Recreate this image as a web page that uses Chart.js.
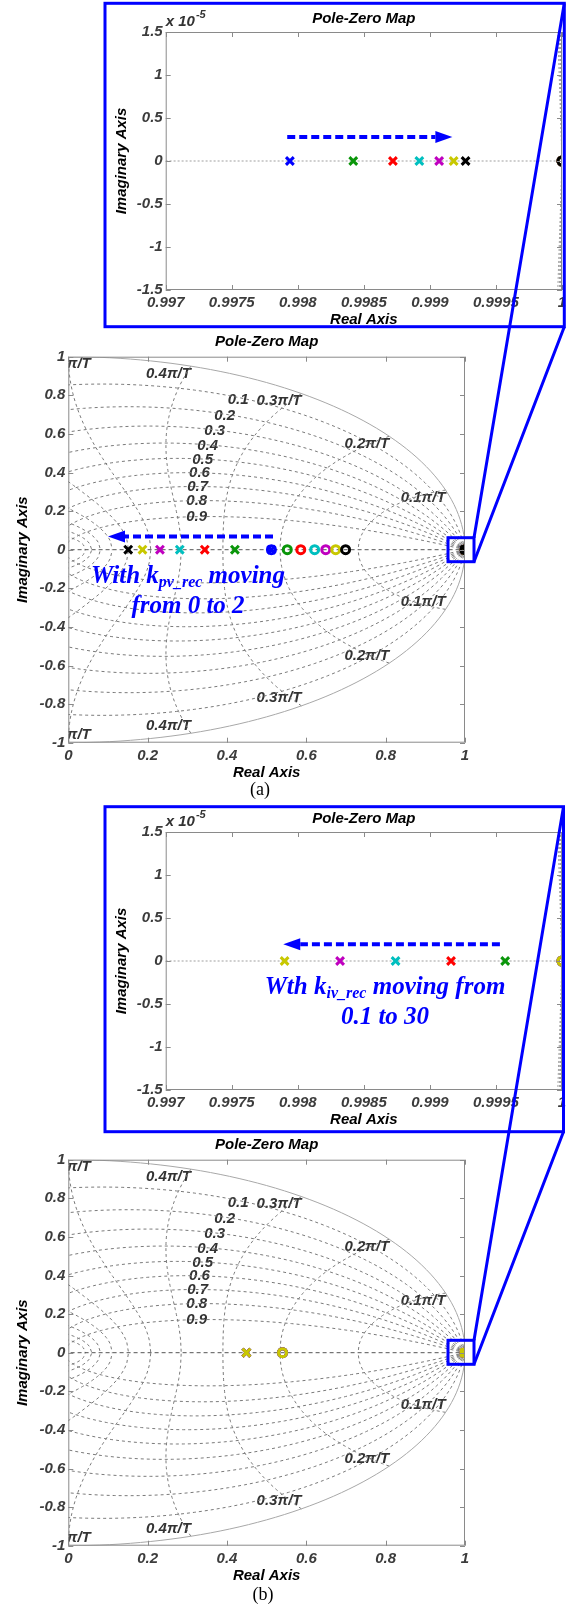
<!DOCTYPE html>
<html>
<head>
<meta charset="utf-8">
<script src="https://cdn.jsdelivr.net/npm/chart.js@4.4.1/dist/chart.umd.min.js"></script>
<style>
  html, body { margin: 0; padding: 0; background: #fff; overflow: hidden; }
  body { position: relative; width: 566px; height: 1607px; }
  canvas.plot { position: absolute; }
  .note { position: absolute; color: #0000ff; font-family: 'Liberation Serif', 'Times New Roman', serif;
          font-weight: bold; font-style: italic; font-size: 25px; line-height: 30px; text-align: center; white-space: nowrap; }
  .note span { font-size: 16px; vertical-align: -4px; line-height: 0; }
  .cap { position: absolute; font-family: 'Liberation Serif', 'Times New Roman', serif; font-size: 18px; line-height: 20px; width: 40px; text-align: center; }
  #overlay { position: absolute; left: 0; top: 0; pointer-events: none; }
</style>
</head>
<body>
<canvas id="zoomA" class="plot" width="480" height="330" style="left:100px;top:0px"></canvas>
<canvas id="mainA" class="plot" width="566" height="475" style="left:0px;top:325px"></canvas>
<canvas id="zoomB" class="plot" width="480" height="330" style="left:100px;top:800px"></canvas>
<canvas id="mainB" class="plot" width="566" height="475" style="left:0px;top:1127.6px"></canvas>
<div class="note" style="left:38px;top:560px;width:300px">With k<span>pv_rec</span> moving<br>from 0 to 2</div>
<div class="note" style="left:235px;top:971px;width:300px">Wth k<span>iv_rec</span> moving from<br>0.1 to 30</div>
<div class="cap" style="left:240px;top:779px">(a)</div>
<div class="cap" style="left:243px;top:1584px">(b)</div>
<canvas id="overlay" width="566" height="1607"></canvas>
<script>
// ---- axis ticks ----
const mainXTicks = [0, 0.2, 0.4, 0.6, 0.8, 1];
const mainYTicks = [-1, -0.8, -0.6, -0.4, -0.2, 0, 0.2, 0.4, 0.6, 0.8, 1];
const zoomXTicks = [0.997, 0.9975, 0.998, 0.9985, 0.999, 0.9995, 1];
const zoomYTicks = [-1.5, -1, -0.5, 0, 0.5, 1, 1.5];   // x 10^-5

// ---- zgrid levels ----
const zetaLevels = [0, 0.1, 0.2, 0.3, 0.4, 0.5, 0.6, 0.7, 0.8, 0.9];
const wnLevels = [0.1, 0.2, 0.3, 0.4, 0.5, 0.6, 0.7, 0.8, 0.9, 1.0];   // x pi/T

// ---- (a) k_pv_rec from 0 to 2 (one colour per step) ----
const polesFarA  = [0.512, 0.420, 0.344, 0.281, 0.231, 0.187, 0.151];
const polesNearA = [0.99794, 0.99842, 0.99872, 0.99892, 0.99907, 0.99918, 0.99927];
const zerosFarA  = [0.512, 0.552, 0.586, 0.621, 0.649, 0.674, 0.699];
const zerosNearA = [1, 1, 1, 1, 1, 1, 1];
const colorsA = ['#0000ff', '#0a960a', '#ff0000', '#00bfbf', '#bf00bf', '#c8c800', '#000000'];

// ---- (b) k_iv_rec from 0.1 to 30 ----
const polesFarB  = [0.449, 0.449, 0.449, 0.449, 0.449];
const polesNearB = [0.99957, 0.99916, 0.99874, 0.99832, 0.99790];
const zerosFarB  = [0.540, 0.540, 0.540, 0.540, 0.540];
const zerosNearB = [1, 1, 1, 1, 1];
const colorsB = ['#0a960a', '#ff0000', '#00bfbf', '#bf00bf', '#c8c800'];

// arrows (data units of each plot)
const arrowZoomA = {from: [0.99792, 0.28], to: [0.99917, 0.28]};
const arrowMainA = {from: [0.516, 0.068], to: [0.100, 0.068]};
const arrowZoomB = {from: [0.99953, 0.195], to: [0.99789, 0.195]};

Chart.defaults.font.family = "'Liberation Sans', Arial, Helvetica, sans-serif";
const AX_FONT = {size: 15, weight: 'bold', style: 'italic'};
const fmt = v => String(parseFloat(Number(v).toFixed(4)));

function zetaCurve(z, s, ys) {
  const m = z / Math.sqrt(1 - z * z), pts = [];
  for (let i = 0; i <= 120; i++) {
    const th = Math.PI * i / 120, r = Math.exp(-m * th);
    pts.push({x: r * Math.cos(th), y: s * r * Math.sin(th) * ys});
  }
  return pts;
}
function wnCurve(k, s, ys) {
  const w = k * Math.PI, pts = [];
  for (let i = 0; i <= 60; i++) {
    const zt = i / 60, r = Math.exp(-zt * w), th = w * Math.sqrt(1 - zt * zt);
    pts.push({x: r * Math.cos(th), y: s * r * Math.sin(th) * ys});
  }
  return pts;
}
// keep only the parts of a polyline inside a box (for the zoomed plots)
function clipPolyline(pts, b) {
  const out = [];
  for (let i = 0; i < pts.length - 1; i++) {
    const a = pts[i], c = pts[i + 1], dx = c.x - a.x, dy = c.y - a.y;
    const p = [-dx, dx, -dy, dy], q = [a.x - b.x0, b.x1 - a.x, a.y - b.y0, b.y1 - a.y];
    let t0 = 0, t1 = 1, ok = true;
    for (let k = 0; k < 4; k++) {
      if (p[k] === 0) { if (q[k] < 0) { ok = false; break; } continue; }
      const r = q[k] / p[k];
      if (p[k] < 0) { if (r > t1) { ok = false; break; } if (r > t0) t0 = r; }
      else { if (r < t0) { ok = false; break; } if (r < t1) t1 = r; }
    }
    if (!ok) continue;
    out.push({x: a.x + t0 * dx, y: a.y + t0 * dy}, {x: a.x + t1 * dx, y: a.y + t1 * dy}, {x: null, y: null});
  }
  return out;
}

function gridSets(zoomed) {
  const ys = zoomed ? 1e5 : 1;
  const dash = zoomed ? [2, 2] : [3, 3];
  const col = zoomed ? '#a0a0a0' : '#7a7a7a';
  const box = {x0: 0.996, x1: 1.001, y0: -2, y1: 2};
  const sets = [];
  const add = (pts, d, c) => sets.push({
    data: zoomed ? clipPolyline(pts, box) : pts, showLine: true, pointRadius: 0,
    borderColor: c, borderWidth: 1, borderDash: d, fill: false, spanGaps: false, order: 100
  });
  add([{x: -1, y: 0}, {x: 1, y: 0}], zoomed ? [2, 2] : [4, 3], zoomed ? '#a0a0a0' : '#555');
  zetaLevels.forEach(z => [1, -1].forEach(s => add(zetaCurve(z, s, ys), z === 0 ? [] : dash, z === 0 ? '#a8a8a8' : col)));
  wnLevels.forEach(k => [1, -1].forEach(s => add(wnCurve(k, s, ys), dash, col)));
  return sets;
}

function markerSets(poleLists, zeroLists, colors) {
  const sets = [];
  colors.forEach((c, i) => {
    const order = colors.length - i;
    sets.push({data: poleLists.map(p => ({x: p[i], y: 0})), showLine: false, order: order,
      pointStyle: 'crossRot', pointRadius: 5.5, pointBorderWidth: 3,
      pointBorderColor: c, pointBackgroundColor: c, borderColor: c});
    sets.push({data: zeroLists.map(z => ({x: z[i], y: 0})), showLine: false, order: order,
      pointStyle: 'circle', pointRadius: 4, pointBorderWidth: 3,
      pointBorderColor: c, pointBackgroundColor: 'rgba(0,0,0,0)', borderColor: c});
  });
  return sets;
}

function drawArrow(ctx, x0, y0, x1, y1) {
  const len = Math.hypot(x1 - x0, y1 - y0), ux = (x1 - x0) / len, uy = (y1 - y0) / len;
  const head = 17, half = 6;
  ctx.save();
  ctx.strokeStyle = '#0000ff'; ctx.fillStyle = '#0000ff';
  ctx.lineWidth = 4; ctx.setLineDash([8, 4]);
  ctx.beginPath(); ctx.moveTo(x0, y0); ctx.lineTo(x1 - ux * head, y1 - uy * head); ctx.stroke();
  ctx.setLineDash([]);
  ctx.beginPath();
  ctx.moveTo(x1, y1);
  ctx.lineTo(x1 - ux * head - uy * half, y1 - uy * head + ux * half);
  ctx.lineTo(x1 - ux * head + uy * half, y1 - uy * head - ux * half);
  ctx.closePath(); ctx.fill();
  ctx.restore();
}

const pzDecor = {
  id: 'pzDecor',
  beforeDatasetsDraw(chart, args, o) {
    if (!o.gridLabels) return;
    const {ctx, chartArea: ca, scales: {x, y}} = chart;
    ctx.save();
    ctx.beginPath(); ctx.rect(ca.left, ca.top, ca.width, ca.height); ctx.clip();
    ctx.font = "italic bold 15px 'Liberation Sans', Arial, sans-serif";
    ctx.fillStyle = '#333';
    wnLevels.forEach(k => {
      const th = k * Math.PI, cx = Math.cos(th);
      const align = Math.abs(cx) < 1e-9 ? 'center' : (cx > 0 ? 'right' : 'left');
      const txt = (k === 1 ? '' : k.toFixed(1)) + 'π/T';
      [1, -1].forEach(s => {
        ctx.textAlign = align;
        ctx.textBaseline = s > 0 ? 'top' : 'bottom';
        ctx.fillText(txt, x.getPixelForValue(cx), y.getPixelForValue(s * Math.sin(th)));
      });
    });
    zetaLevels.filter(z => z > 0).forEach(z => {
      const w = Math.PI / 3, r = Math.exp(-z * w), th = w * Math.sqrt(1 - z * z);
      ctx.textAlign = 'right'; ctx.textBaseline = 'middle';
      ctx.fillText(String(z), x.getPixelForValue(r * Math.cos(th)), y.getPixelForValue(r * Math.sin(th)));
    });
    ctx.restore();
  },
  afterDatasetsDraw(chart, args, o) {
    const {ctx, chartArea: ca, scales: {x, y}} = chart;
    // frame with inward ticks
    ctx.save();
    ctx.strokeStyle = '#8a8a8a'; ctx.lineWidth = 1;
    ctx.strokeRect(ca.left + 0.5, ca.top + 0.5, ca.width - 1, ca.height - 1);
    ctx.beginPath();
    x.ticks.forEach(t => {
      const px = Math.round(x.getPixelForValue(t.value)) + 0.5;
      ctx.moveTo(px, ca.bottom); ctx.lineTo(px, ca.bottom - 5);
      ctx.moveTo(px, ca.top); ctx.lineTo(px, ca.top + 5);
    });
    y.ticks.forEach(t => {
      const py = Math.round(y.getPixelForValue(t.value)) + 0.5;
      ctx.moveTo(ca.left, py); ctx.lineTo(ca.left + 5, py);
      ctx.moveTo(ca.right, py); ctx.lineTo(ca.right - 5, py);
    });
    ctx.stroke();
    ctx.restore();
    if (o.arrow) {
      drawArrow(ctx, x.getPixelForValue(o.arrow.from[0]), y.getPixelForValue(o.arrow.from[1]),
                     x.getPixelForValue(o.arrow.to[0]), y.getPixelForValue(o.arrow.to[1]));
    }
    if (o.exponent) {
      ctx.save();
      ctx.fillStyle = '#333'; ctx.textAlign = 'left'; ctx.textBaseline = 'alphabetic';
      ctx.font = "italic bold 15px 'Liberation Sans', Arial, sans-serif";
      ctx.fillText('x 10', ca.left, ca.top - 6);
      const w = ctx.measureText('x 10').width;
      ctx.font = "italic bold 11px 'Liberation Sans', Arial, sans-serif";
      ctx.fillText('-5', ca.left + w + 1, ca.top - 14);
      ctx.restore();
    }
  }
};

function makePlot(id, cfg) {
  return new Chart(document.getElementById(id), {
    type: 'scatter',
    data: {datasets: cfg.markers.concat(gridSets(cfg.zoomed))},
    options: {
      responsive: false, animation: false, events: [],
      layout: {padding: cfg.pad},
      plugins: {
        legend: {display: false}, tooltip: {enabled: false},
        title: {display: true, text: 'Pole-Zero Map', fullSize: false, color: '#000', font: AX_FONT,
                padding: {top: cfg.titleTop, bottom: cfg.titleBottom}},
        pzDecor: {gridLabels: !cfg.zoomed, arrow: cfg.arrow, exponent: cfg.zoomed}
      },
      scales: {
        x: {
          type: 'linear', min: cfg.xRange[0], max: cfg.xRange[1],
          afterBuildTicks: s => { s.ticks = cfg.xTicks.map(v => ({value: v})); },
          afterFit: s => { s.height = cfg.xH; s.paddingLeft = 0; s.paddingRight = 0; },
          grid: {display: false, drawTicks: false}, border: {display: false},
          ticks: {color: '#3c3c3c', font: AX_FONT, padding: 4, maxRotation: 0, autoSkip: false, callback: fmt},
          title: {display: true, text: 'Real Axis', color: '#000', font: AX_FONT, padding: 0}
        },
        y: {
          type: 'linear', min: cfg.yRange[0], max: cfg.yRange[1],
          afterBuildTicks: s => { s.ticks = cfg.yTicks.map(v => ({value: v})); },
          afterFit: s => { s.width = cfg.yW; s.paddingTop = 0; s.paddingBottom = 0; },
          grid: {display: false, drawTicks: false}, border: {display: false},
          ticks: {color: '#3c3c3c', font: AX_FONT, padding: 3, autoSkip: false, callback: fmt},
          title: {display: true, text: 'Imaginary Axis', color: '#000', font: AX_FONT, padding: 0}
        }
      }
    },
    plugins: [pzDecor]
  });
}

const zoomCfg = {zoomed: true, xRange: [0.997, 1], yRange: [-1.5, 1.5], xTicks: zoomXTicks, yTicks: zoomYTicks,
  pad: {left: 12.7, right: 18, top: 0, bottom: 1}, titleTop: 10, titleBottom: 4, xH: 39, yW: 53};
const mainCfg = {zoomed: false, xRange: [0, 1], yRange: [-1, 1], xTicks: mainXTicks, yTicks: mainYTicks,
  pad: {left: 14, right: 101, top: 0, bottom: 18}, titleTop: 8, titleBottom: 5.7, xH: 39.3, yW: 54.3};

const marksA = markerSets([polesFarA, polesNearA], [zerosFarA, zerosNearA], colorsA);
const marksB = markerSets([polesFarB, polesNearB], [zerosFarB, zerosNearB], colorsB);

const zoomA = makePlot('zoomA', Object.assign({}, zoomCfg, {markers: marksA, arrow: arrowZoomA}));
const mainA = makePlot('mainA', Object.assign({}, mainCfg, {markers: marksA, arrow: arrowMainA}));
const zoomB = makePlot('zoomB', Object.assign({}, zoomCfg, {markers: marksB, arrow: arrowZoomB}));
const mainB = makePlot('mainB', Object.assign({}, mainCfg, {markers: marksB, arrow: null}));

// blue zoom boxes and connecting lines
function pagePoint(chart, xv, yv) {
  const el = chart.canvas;
  return [parseFloat(el.style.left) + chart.scales.x.getPixelForValue(xv),
          parseFloat(el.style.top) + chart.scales.y.getPixelForValue(yv)];
}
const ov = document.getElementById('overlay').getContext('2d');
ov.strokeStyle = '#0000ff';
ov.lineWidth = 3;
function zoomFrame(mainChart, box) {
  const [cx, cy] = pagePoint(mainChart, 1, 0);
  const sb = {l: cx - 17, r: cx + 9, t: cy - 12, b: cy + 12};
  ov.strokeRect(box.l, box.t, box.r - box.l, box.b - box.t);
  ov.strokeRect(sb.l, sb.t, sb.r - sb.l, sb.b - sb.t);
  ov.beginPath();
  ov.moveTo(box.r, box.t); ov.lineTo(sb.r, sb.t);
  ov.moveTo(box.r, box.b); ov.lineTo(sb.r, sb.b);
  ov.stroke();
}
zoomFrame(mainA, {l: 105, t: 3.3, r: 564.3, b: 326.7});
zoomFrame(mainB, {l: 105, t: 806.7, r: 563.5, b: 1131.7});
</script>
</body>
</html>
